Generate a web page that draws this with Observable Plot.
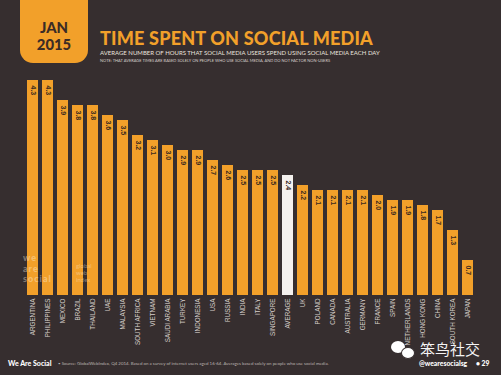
<!DOCTYPE html>
<html><head><meta charset="utf-8">
<script src="https://cdn.jsdelivr.net/npm/d3@7"></script>
<script src="https://cdn.jsdelivr.net/npm/@observablehq/plot@0.6"></script>
<style>
html,body{margin:0;padding:0;background:#362e2f;}
#wrap{position:relative;width:501px;height:375px;overflow:hidden;background:#362e2f;font-family:Lato,"Open Sans",sans-serif;}
#chart{position:absolute;left:0;top:0;}
.abs{position:absolute;white-space:nowrap;}
#badge{left:20px;top:-12px;width:68px;height:75px;background:#f2a02a;border-radius:0 0 13px 13px;}
.bt{width:68px;left:20px;text-align:center;color:#3b2c26;font-weight:900;font-size:14.8px;line-height:normal;}
#title{left:100px;top:27px;color:#f2a02a;font-weight:900;font-size:18px;letter-spacing:0.2px;}
#sub{left:100px;top:49px;color:#e8e2de;font-size:6px;}
#note{left:100px;top:58px;color:#d8d0cc;font-size:4px;}
#foot1{left:8px;top:359px;color:#fff;font-weight:900;font-size:7px;}
#foot2{left:58px;top:361px;color:#bdb5b1;font-size:4.4px;}
#foot3{left:419px;top:359px;color:#fff;font-weight:900;font-size:6.8px;}
#foot4{left:476px;top:359px;color:#fff;font-weight:900;font-size:6.8px;}
#wm{left:420px;top:338px;color:#fff;font-size:15px;font-family:"Noto Sans CJK SC",sans-serif;opacity:0.95;}
.bub{position:absolute;background:#fff;border-radius:50%;}
#ws{left:23px;top:253px;color:rgba(255,240,220,0.4);font-weight:900;font-size:9px;line-height:10.5px;letter-spacing:1px;}
#gwi{left:76px;top:262px;color:rgba(255,240,220,0.4);font-size:6px;line-height:7px;}
</style></head>
<body><div id="wrap">
<div id="chart"></div>
<div id="badge" class="abs"></div>
<div class="abs bt" style="top:17.5px;">JAN</div>
<div class="abs bt" style="top:35px;">2015</div>
<div id="title" class="abs">TIME SPENT ON SOCIAL MEDIA</div>
<div id="sub" class="abs">AVERAGE NUMBER OF HOURS THAT SOCIAL MEDIA USERS SPEND USING SOCIAL MEDIA EACH DAY</div>
<div id="note" class="abs">NOTE: THAT AVERAGE TIMES ARE BASED SOLELY ON PEOPLE WHO USE SOCIAL MEDIA, AND DO NOT FACTOR NON-USERS</div>
<div id="ws" class="abs">we<br>are<br>social</div>
<div id="gwi" class="abs">global<br>web<br>index</div>
<div class="bub" style="left:391px;top:341px;width:14px;height:12px;"></div>
<div class="bub" style="left:401px;top:347px;width:12px;height:10px;border:1px solid #362e2f;"></div>
<div id="wm" class="abs">笨鸟社交</div>
<div id="foot1" class="abs">We Are Social</div>
<div id="foot2" class="abs">• Source: GlobalWebIndex, Q4 2014. Based on a survey of internet users aged 16-64. Averages based solely on people who use social media.</div>
<div id="foot3" class="abs">@wearesocialsg</div>
<div id="foot4" class="abs">• 29</div>
</div>
<script>
const countries = ["ARGENTINA","PHILIPPINES","MEXICO","BRAZIL","THAILAND","UAE","MALAYSIA","SOUTH AFRICA","VIETNAM","SAUDI ARABIA","TURKEY","INDONESIA","USA","RUSSIA","INDIA","ITALY","SINGAPORE","AVERAGE","UK","POLAND","CANADA","AUSTRALIA","GERMANY","FRANCE","SPAIN","NETHERLANDS","HONG KONG","CHINA","SOUTH KOREA","JAPAN"];
const hours = [4.3,4.3,3.9,3.8,3.8,3.6,3.5,3.2,3.1,3.0,2.9,2.9,2.7,2.6,2.5,2.5,2.5,2.4,2.2,2.1,2.1,2.1,2.1,2.0,1.9,1.9,1.8,1.7,1.3,0.7];
const kinds = ["country","average"];
const kindColors = ["#f2a02a","#f4f1ee"];
const data = countries.map((c,i)=>({country:c,hours:hours[i],kind:c==="AVERAGE"?"average":"country"}));
const chart = Plot.plot({
  width:501, height:375,
  marginTop:80, marginBottom:80, marginLeft:11, marginRight:13,
  style:{background:"transparent", color:"#d6ceca", fontFamily:"'Liberation Sans', Arial, sans-serif", fontSize:"6.3px"},
  x:{domain:countries, padding:0.3, label:null, tickRotate:-90, tickSize:0, tickPadding:3},
  y:{domain:[0,4.3], axis:null},
  color:{domain:kinds, range:kindColors},
  marks:[
    Plot.barY(data,{x:"country",y:"hours",fill:"kind"}),
    Plot.text(data,{x:"country",y:"hours",text:d=>d.hours.toFixed(1),rotate:90,textAnchor:"start",dy:5,fill:"#3a2a1e",fontSize:7,fontWeight:"bold"})
  ]
});
document.getElementById("chart").appendChild(chart);
</script>
</body></html>
